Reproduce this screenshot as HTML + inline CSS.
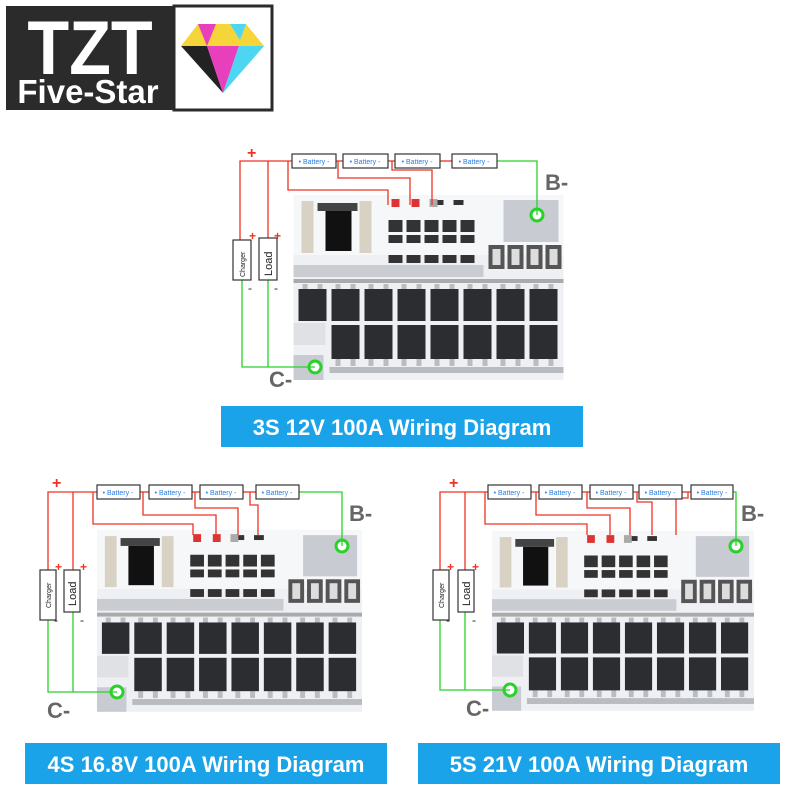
<!DOCTYPE html>
<html><head><meta charset="utf-8"><style>
body{margin:0;background:#fff;}
svg{display:block;font-family:"Liberation Sans",sans-serif;}
</style></head><body>
<svg width="800" height="800" viewBox="0 0 800 800" xmlns="http://www.w3.org/2000/svg">
<defs>
<symbol id="board" viewBox="0 0 270 185">
 <rect x="0" y="0" width="270" height="185" fill="#eef0f3"/>
 <rect x="0" y="0" width="270" height="60" fill="#f6f7f9"/>
 <rect x="8" y="6" width="12" height="52" fill="#d8d2c4"/>
 <rect x="66" y="6" width="12" height="52" fill="#d8d2c4"/>
 <rect x="24" y="8" width="40" height="8" fill="#444"/>
 <rect x="32" y="16" width="26" height="40" fill="#111"/>
 <g fill="#333">
  <rect x="95" y="25" width="14" height="12"/><rect x="113" y="25" width="14" height="12"/><rect x="131" y="25" width="14" height="12"/><rect x="149" y="25" width="14" height="12"/><rect x="167" y="25" width="14" height="12"/>
  <rect x="95" y="40" width="14" height="8"/><rect x="113" y="40" width="14" height="8"/><rect x="131" y="40" width="14" height="8"/><rect x="149" y="40" width="14" height="8"/><rect x="167" y="40" width="14" height="8"/>
  <rect x="95" y="60" width="14" height="8"/><rect x="113" y="60" width="14" height="8"/><rect x="131" y="60" width="14" height="8"/><rect x="149" y="60" width="14" height="8"/><rect x="167" y="60" width="14" height="8"/>
  <rect x="140" y="5" width="10" height="5"/><rect x="160" y="5" width="10" height="5"/>
 </g>
 <g fill="#d33"><rect x="98" y="4" width="8" height="8"/><rect x="118" y="4" width="8" height="8"/><rect x="136" y="4" width="8" height="8" fill="#aaa"/></g>
 <rect x="210" y="5" width="55" height="42" fill="#c8ccd2"/>
 <g fill="#555">
  <rect x="195" y="50" width="16" height="24"/><rect x="214" y="50" width="16" height="24"/><rect x="233" y="50" width="16" height="24"/><rect x="252" y="50" width="16" height="24"/>
 </g>
 <g fill="#ddd"><rect x="199" y="54" width="8" height="16"/><rect x="218" y="54" width="8" height="16"/><rect x="237" y="54" width="8" height="16"/><rect x="256" y="54" width="8" height="16"/></g>
 <rect x="0" y="70" width="190" height="12" fill="#c9ccd0"/>
 <rect x="0" y="84" width="270" height="4" fill="#aaa"/>
 <g fill="#b9bcc1">
  <rect x="9" y="89" width="5" height="6"/><rect x="24" y="89" width="5" height="6"/><rect x="42" y="89" width="5" height="6"/><rect x="57" y="89" width="5" height="6"/><rect x="75" y="89" width="5" height="6"/><rect x="90" y="89" width="5" height="6"/><rect x="108" y="89" width="5" height="6"/><rect x="123" y="89" width="5" height="6"/><rect x="141" y="89" width="5" height="6"/><rect x="156" y="89" width="5" height="6"/><rect x="174" y="89" width="5" height="6"/><rect x="189" y="89" width="5" height="6"/><rect x="207" y="89" width="5" height="6"/><rect x="222" y="89" width="5" height="6"/><rect x="240" y="89" width="5" height="6"/><rect x="255" y="89" width="5" height="6"/>
  <rect x="42" y="164" width="5" height="7"/><rect x="57" y="164" width="5" height="7"/><rect x="75" y="164" width="5" height="7"/><rect x="90" y="164" width="5" height="7"/><rect x="108" y="164" width="5" height="7"/><rect x="123" y="164" width="5" height="7"/><rect x="141" y="164" width="5" height="7"/><rect x="156" y="164" width="5" height="7"/><rect x="174" y="164" width="5" height="7"/><rect x="189" y="164" width="5" height="7"/><rect x="207" y="164" width="5" height="7"/><rect x="222" y="164" width="5" height="7"/><rect x="240" y="164" width="5" height="7"/><rect x="255" y="164" width="5" height="7"/>
 </g>
 <g fill="#2b2d31">
  <rect x="5" y="94" width="28" height="32"/><rect x="38" y="94" width="28" height="32"/><rect x="71" y="94" width="28" height="32"/><rect x="104" y="94" width="28" height="32"/><rect x="137" y="94" width="28" height="32"/><rect x="170" y="94" width="28" height="32"/><rect x="203" y="94" width="28" height="32"/><rect x="236" y="94" width="28" height="32"/>
  <rect x="38" y="130" width="28" height="34"/><rect x="71" y="130" width="28" height="34"/><rect x="104" y="130" width="28" height="34"/><rect x="137" y="130" width="28" height="34"/><rect x="170" y="130" width="28" height="34"/><rect x="203" y="130" width="28" height="34"/><rect x="236" y="130" width="28" height="34"/>
 </g>
 <rect x="0" y="128" width="32" height="22" fill="#dfe1e4"/>
 <rect x="0" y="160" width="30" height="25" fill="#c8ccd2"/>
 <rect x="36" y="172" width="234" height="6" fill="#b8bbc0"/>
</symbol>
</defs>

<!-- logo -->
<rect x="6" y="6" width="168" height="104" fill="#2b2b2b"/>
<rect x="174" y="6" width="98" height="104" fill="#fff" stroke="#2b2b2b" stroke-width="3"/>
<text x="90" y="74" font-size="76" fill="#fff" text-anchor="middle" font-weight="bold" transform="translate(9,0) scale(0.9,1)">TZT</text>
<text x="88" y="103" font-size="33" fill="#fff" text-anchor="middle" font-weight="bold">Five-Star</text>
<polygon points="181,46 198,24 246,24 264,46" fill="#f5d53a"/>
<polygon points="198,24 216,24 207,46" fill="#e83fbd"/>
<polygon points="230,24 246,24 240,40" fill="#4dd6f2"/>
<polygon points="181,46 223,93 207,46" fill="#222"/>
<polygon points="207,46 239,46 223,93" fill="#e83fbd"/>
<polygon points="239,46 264,46 223,93" fill="#4dd6f2"/>

<!-- boards -->
<use href="#board" x="292" y="195" width="273" height="185"/>
<use href="#board" x="97" y="528" width="265" height="186"/>
<use href="#board" x="492" y="528" width="262" height="186"/>

<g fill="#fff" stroke="#2ad12a" stroke-width="3"><circle cx="537" cy="215" r="6"/><circle cx="315" cy="367" r="6"/><circle cx="342" cy="546" r="6"/><circle cx="117" cy="692" r="6"/><circle cx="736" cy="546" r="6"/><circle cx="510" cy="690" r="6"/></g>

<!-- wiring top -->
<g fill="none" stroke="#e32" stroke-width="1.3">
 <polyline points="292,161 240,161 240,240"/><line x1="268" y1="161" x2="268" y2="240"/>
 <polyline points="288,161 288,190 388,190 388,205"/>
 <polyline points="338,161 338,178 410,178 410,205"/>
 <polyline points="392,161 392,170 432,170 432,205"/>
 <line x1="336" y1="161" x2="343" y2="161"/><line x1="388" y1="161" x2="395" y2="161"/><line x1="440" y1="161" x2="452" y2="161"/>
</g>
<g fill="none" stroke="#2ad12a" stroke-width="1.3">
 <polyline points="497,161 537,161 537,215"/><polyline points="242,280 242,367 315,367"/><line x1="268" y1="280" x2="268" y2="367"/>
</g>
<!-- wiring bottom left -->
<g fill="none" stroke="#e32" stroke-width="1.3">
 <polyline points="97,492 48,492 48,570"/><line x1="73" y1="492" x2="73" y2="570"/>
 <polyline points="93,492 93,524 193,524 193,535"/>
 <polyline points="143,492 143,515 216,515 216,535"/>
 <polyline points="195,492 195,508 238,508 238,535"/>
 <polyline points="250,492 250,505 258,505 258,535"/>
 <line x1="140" y1="492" x2="149" y2="492"/><line x1="192" y1="492" x2="200" y2="492"/><line x1="243" y1="492" x2="256" y2="492"/>
</g>
<g fill="none" stroke="#2ad12a" stroke-width="1.3"><polyline points="299,492 342,492 342,546"/><polyline points="48,620 48,692 117,692"/><line x1="73" y1="612" x2="73" y2="692"/></g>
<!-- wiring bottom right -->
<g fill="none" stroke="#e32" stroke-width="1.3">
 <polyline points="488,492 440,492 440,570"/><line x1="465" y1="492" x2="465" y2="570"/>
 <polyline points="485,492 485,524 587,524 587,535"/>
 <polyline points="536,492 536,515 610,515 610,535"/>
 <polyline points="587,492 587,508 630,508 630,535"/>
 <polyline points="637,492 637,502 652,502 652,535"/>
 <polyline points="688,492 688,498 676,498 676,535"/>
 <line x1="531" y1="492" x2="539" y2="492"/><line x1="582" y1="492" x2="590" y2="492"/><line x1="633" y1="492" x2="639" y2="492"/><line x1="682" y1="492" x2="691" y2="492"/>
</g>
<g fill="none" stroke="#2ad12a" stroke-width="1.3"><polyline points="733,492 736,492 736,546"/><polyline points="440,620 440,690 510,690"/><line x1="465" y1="612" x2="465" y2="690"/></g>

<!-- battery boxes -->
<g fill="#fff" stroke="#333" stroke-width="1.2">
 <rect x="292" y="154" width="44" height="14"/><rect x="343" y="154" width="45" height="14"/><rect x="395" y="154" width="45" height="14"/><rect x="452" y="154" width="45" height="14"/>
 <rect x="97" y="485" width="43" height="14"/><rect x="149" y="485" width="43" height="14"/><rect x="200" y="485" width="43" height="14"/><rect x="256" y="485" width="43" height="14"/>
 <rect x="488" y="485" width="43" height="14"/><rect x="539" y="485" width="43" height="14"/><rect x="590" y="485" width="43" height="14"/><rect x="639" y="485" width="43" height="14"/><rect x="691" y="485" width="42" height="14"/>
 <rect x="233" y="240" width="18" height="40"/><rect x="259" y="238" width="18" height="42"/>
 <rect x="40" y="570" width="16" height="50"/><rect x="64" y="570" width="16" height="42"/>
 <rect x="433" y="570" width="16" height="50"/><rect x="458" y="570" width="16" height="42"/>
</g>
<g font-size="7" fill="#2a7de1" text-anchor="middle">
 <text x="314" y="164">• Battery -</text><text x="365" y="164">• Battery -</text><text x="417" y="164">• Battery -</text><text x="474" y="164">• Battery -</text>
 <text x="118" y="495">• Battery -</text><text x="170" y="495">• Battery -</text><text x="221" y="495">• Battery -</text><text x="277" y="495">• Battery -</text>
 <text x="509" y="495">• Battery -</text><text x="560" y="495">• Battery -</text><text x="611" y="495">• Battery -</text><text x="660" y="495">• Battery -</text><text x="712" y="495">• Battery -</text>
</g>
<g fill="#222">
 <text font-size="7" transform="translate(245,277) rotate(-90)">Charger</text>
 <text font-size="11" transform="translate(272,276) rotate(-90)">Load</text>
 <text font-size="7" transform="translate(51,608) rotate(-90)">Charger</text>
 <text font-size="11" transform="translate(76,606) rotate(-90)">Load</text>
 <text font-size="7" transform="translate(444,608) rotate(-90)">Charger</text>
 <text font-size="11" transform="translate(470,606) rotate(-90)">Load</text>
</g>
<g fill="#e32" font-weight="bold">
 <text x="247" y="158" font-size="16">+</text><text x="249" y="240" font-size="12">+</text><text x="274" y="240" font-size="12">+</text>
 <text x="52" y="488" font-size="16">+</text><text x="55" y="571" font-size="12">+</text><text x="80" y="571" font-size="12">+</text>
 <text x="449" y="488" font-size="16">+</text><text x="447" y="571" font-size="12">+</text><text x="472" y="571" font-size="12">+</text>
</g>
<g fill="#222" font-size="12"><text x="248" y="292">-</text><text x="274" y="292">-</text><text x="54" y="624">-</text><text x="80" y="624">-</text><text x="446" y="624">-</text><text x="472" y="624">-</text></g>
<g fill="#666" font-size="22" font-weight="bold">
 <text x="545" y="190">B-</text><text x="269" y="387">C-</text>
 <text x="349" y="521">B-</text><text x="47" y="718">C-</text>
 <text x="741" y="521">B-</text><text x="466" y="716">C-</text>
</g>

<!-- banners -->
<rect x="221" y="406" width="362" height="41" fill="#1aa3e8"/>
<rect x="25" y="743" width="362" height="41" fill="#1aa3e8"/>
<rect x="418" y="743" width="362" height="41" fill="#1aa3e8"/>
<g fill="#fff" font-size="22" font-weight="bold" text-anchor="middle">
 <text x="402" y="435">3S 12V 100A Wiring Diagram</text>
 <text x="206" y="772">4S 16.8V 100A Wiring Diagram</text>
 <text x="599" y="772">5S 21V 100A Wiring Diagram</text>
</g>
</svg>
</body></html>
